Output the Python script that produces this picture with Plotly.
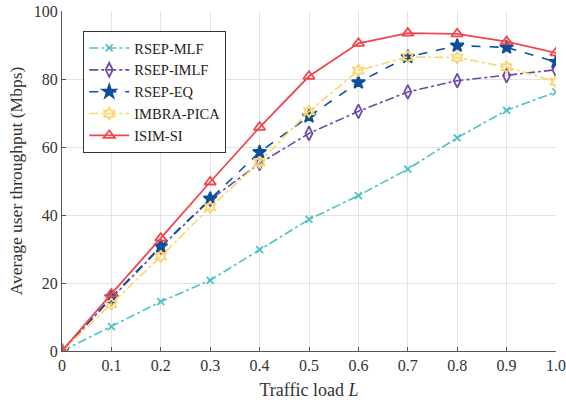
import plotly.graph_objects as go

load = [0, 0.1, 0.2, 0.3, 0.4, 0.5, 0.6, 0.7, 0.8, 0.9, 1.0]
rsep_mlf = [0, 7.2, 14.5, 20.8, 29.8, 38.7, 45.7, 53.5, 62.7, 70.8, 76.2]
rsep_imlf = [0, 15.5, 30.5, 44.5, 55.2, 64.0, 70.5, 76.2, 79.5, 81.0, 82.7]
rsep_eq = [0, 15.8, 30.8, 44.8, 58.5, 69.0, 79.0, 86.5, 89.8, 89.3, 85.0]
imbra_pica = [0, 13.8, 27.8, 42.3, 55.5, 70.5, 82.5, 86.5, 86.3, 83.5, 79.2]
isim_si = [0, 16.8, 33.2, 49.7, 65.8, 80.8, 90.5, 93.5, 93.3, 91.0, 87.7]
x_ticks = [0, 0.1, 0.2, 0.3, 0.4, 0.5, 0.6, 0.7, 0.8, 0.9, 1.0]
x_labels = ["0", "0.1", "0.2", "0.3", "0.4", "0.5", "0.6", "0.7", "0.8", "0.9", "1.0"]
y_ticks = [0, 20, 40, 60, 80, 100]

series = [
    ("RSEP-MLF", rsep_mlf, "#4dc3c3", "dashdot", "x-thin-open", 7, 1.6),
    ("RSEP-IMLF", rsep_imlf, "#6b4ba8", "dashdot", "diamond-tall-open", 10, 1.6),
    ("RSEP-EQ", rsep_eq, "#0d4f99", "dash", "star", 10, 1.6),
    ("IMBRA-PICA", imbra_pica, "#fdd66b", "dashdot", "hexagram-open", 9, 1.6),
    ("ISIM-SI", isim_si, "#f0474f", "solid", "triangle-up-open", 10, 1.8),
]

fig = go.Figure()
for name, ys, col, dash, sym, size, w in series:
    fig.add_trace(go.Scatter(
        x=load, y=ys, name=name, mode="lines+markers",
        line=dict(color=col, width=w, dash=dash),
        marker=dict(symbol=sym, size=size, color=col,
                    line=dict(color=col, width=1.8)),
    ))

serif = "Liberation Serif"
fig.update_layout(
    width=566, height=405,
    margin=dict(l=62, r=10, t=11, b=54),
    paper_bgcolor="white", plot_bgcolor="white",
    font=dict(family=serif, size=16, color="#333333"),
    showlegend=True,
    legend=dict(x=0.043, y=0.941, xanchor="left", yanchor="top",
                bgcolor="white", bordercolor="#333333", borderwidth=1,
                font=dict(family=serif, size=14.5, color="#222222"),
                tracegroupgap=0, itemwidth=40),
    xaxis=dict(range=[0, 1.0], tickvals=x_ticks, ticktext=x_labels,
               showgrid=True, gridcolor="#e3e3e3", gridwidth=1,
               showline=True, linecolor="#555555", linewidth=1,
               ticks="inside", ticklen=4, tickcolor="#555555",
               zeroline=False, automargin=False,
               title=dict(text="Traffic load <i>L</i>", font=dict(size=18), standoff=10)),
    yaxis=dict(range=[0, 100], tickvals=y_ticks,
               showgrid=True, gridcolor="#e3e3e3", gridwidth=1,
               showline=True, linecolor="#555555", linewidth=1,
               ticks="inside", ticklen=4, tickcolor="#555555",
               zeroline=False, automargin=False,
               title=dict(text="Average user throughput (Mbps)", font=dict(size=17.5), standoff=6)),
)
fig.write_html("out.html", config={"displayModeBar": False},
               post_script="document.body.style.margin='0';")
